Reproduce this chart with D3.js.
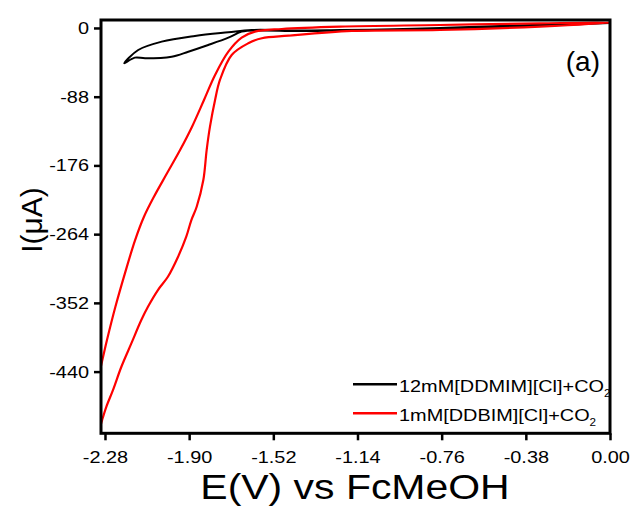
<!DOCTYPE html>
<html>
<head>
<meta charset="utf-8">
<script src="https://cdn.jsdelivr.net/npm/d3@7/dist/d3.min.js"></script>
<style>
body { margin: 0; background: #fff; }
text { font-family: Arial, "Liberation Sans", sans-serif; fill: #000; }
</style>
</head>
<body>
<div id="chart"></div>
<script>
// tick values
var xTicks = [-2.28, -1.90, -1.52, -1.14, -0.76, -0.38, 0.00];
var yTicks = [0, -88, -176, -264, -352, -440];

// legend labels (the subscript 2 is added separately)
var seriesNames = ["12mM[DDMIM][Cl]+CO", "1mM[DDBIM][Cl]+CO"];
var seriesColors = ["#000000", "#ff0000"];

// black CV (12mM DDMIM) : potential (V) and current (uA)
var blackE = [0.000, -0.497, -0.768, -0.980, -1.219, -1.400, -1.618, -1.723, -1.874, -2.024, -2.130, -2.193,
              -2.145, -2.099, -1.979, -1.904, -1.814, -1.723, -1.663, -1.580, -1.400, -0.948, -0.497, 0.000];
var blackI = [6.4, 2.6, 0.0, -1.7, -2.6, -3.2, -2.6, -5.5, -10.2, -17.5, -28.2, -45.2,
              -38.0, -38.8, -36.8, -30.4, -21.8, -12.4, -4.7, -3.2, -3.8, -1.9, 1.3, 6.4];

// red CV (1mM DDBIM): steep branch up to 0 V, then back down the gentle branch
var redE = [-2.298, -2.293, -2.274, -2.244, -2.206, -2.161, -2.116, -2.086, -2.041, -1.996, -1.950, -1.913,
            -1.890, -1.866, -1.836, -1.821, -1.806, -1.783, -1.761, -1.708, -1.633, -1.572, -1.452, -1.166,
            -0.768, -0.316, 0.000,
            -0.316, -0.768, -1.219, -1.482, -1.603, -1.663, -1.723, -1.783, -1.833, -1.887, -1.941, -2.000,
            -2.059, -2.104, -2.144, -2.190, -2.233, -2.271, -2.298];
var redI = [-507.2, -502.1, -485.1, -463.7, -433.8, -403.9, -374.0, -357.0, -335.6, -318.6, -292.9, -267.3,
            -245.9, -228.9, -194.7, -156.3, -126.4, -92.2, -66.6, -34.6, -19.6, -13.2, -9.9, -3.8,
            -2.6, 1.7, 6.8,
            6.0, 3.8, 1.7, -1.3, -4.7, -12.4, -30.4, -60.2, -92.2, -126.4, -156.3, -186.1,
            -216.1, -241.7, -271.6, -314.2, -357.0, -399.6, -433.0];

function init() {
  var W = 633, H = 509;
  var left = 101, right = 610, top = 20, bottom = 433.3;
  var sx = 1.17; // text in the picture is a bit wide

  // plain hyphen for negatives, like the original
  var fmtX = function(d) { return d3.format(".2f")(d).replace("\u2212", "-"); };
  var fmtY = function(d) { return d3.format("d")(d).replace("\u2212", "-"); };

  var svg = d3.select("#chart").append("svg")
    .attr("width", W)
    .attr("height", H);

  var x = d3.scaleLinear().domain([-2.298, 0]).range([left, right]);
  var y = d3.scaleLinear().domain([-519, 10.2]).range([bottom, top]);

  svg.append("defs").append("clipPath").attr("id", "clip")
    .append("rect")
      .attr("x", left).attr("y", top)
      .attr("width", right - left).attr("height", bottom - top);

  // curves
  var line = d3.line()
    .x(function(d) { return x(d[0]); })
    .y(function(d) { return y(d[1]); })
    .curve(d3.curveCatmullRom.alpha(0.5));

  var blackPts = blackE.map(function(e, i) { return [e, blackI[i]]; });
  var redPts = redE.map(function(e, i) { return [e, redI[i]]; });

  var plot = svg.append("g").attr("clip-path", "url(#clip)");
  plot.append("path").datum(blackPts)
    .attr("d", line)
    .attr("fill", "none")
    .attr("stroke", seriesColors[0])
    .attr("stroke-width", 2);
  plot.append("path").datum(redPts)
    .attr("d", line)
    .attr("fill", "none")
    .attr("stroke", seriesColors[1])
    .attr("stroke-width", 2.2);

  // frame
  svg.append("rect")
    .attr("x", left).attr("y", top)
    .attr("width", right - left).attr("height", bottom - top)
    .attr("fill", "none")
    .attr("stroke", "#000")
    .attr("stroke-width", 3);

  // x axis
  var gx = svg.append("g")
    .attr("transform", "translate(0," + bottom + ")")
    .call(d3.axisBottom(x).tickValues(xTicks).tickFormat(fmtX)
      .tickSize(7).tickPadding(11).tickSizeOuter(0));
  gx.select(".domain").remove();
  gx.selectAll(".tick line").attr("stroke-width", 2.5);
  gx.selectAll(".tick text")
    .style("font-size", "17px")
    .attr("transform", "scale(" + sx + ",1)");

  // y axis
  var gy = svg.append("g")
    .attr("transform", "translate(" + left + ",0)")
    .call(d3.axisLeft(y).tickValues(yTicks).tickFormat(fmtY)
      .tickSize(7).tickPadding(5).tickSizeOuter(0));
  gy.select(".domain").remove();
  gy.selectAll(".tick line").attr("stroke-width", 2.5);
  gy.selectAll(".tick text")
    .style("font-size", "17px")
    .attr("x", -12 / sx)
    .attr("transform", "scale(" + sx + ",1)");

  // axis titles
  svg.append("text")
    .attr("transform", "translate(355,499) scale(" + sx + ",1)")
    .attr("text-anchor", "middle")
    .style("font-size", "35px")
    .text("E(V) vs FcMeOH");

  svg.append("text")
    .attr("transform", "translate(42,220) rotate(-90)")
    .attr("text-anchor", "middle")
    .style("font-size", "30px")
    .text("I(\u03bcA)");

  // panel label
  svg.append("text")
    .attr("x", 600).attr("y", 71)
    .attr("text-anchor", "end")
    .style("font-size", "28px")
    .text("(a)");

  // legend
  var legY = [384.3, 413.3];
  seriesNames.forEach(function(name, i) {
    svg.append("line")
      .attr("x1", 353).attr("x2", 397)
      .attr("y1", legY[i]).attr("y2", legY[i])
      .attr("stroke", seriesColors[i])
      .attr("stroke-width", 2.5);
    var t = svg.append("text")
      .attr("transform", "translate(399," + (legY[i] + 7.5) + ") scale(" + sx + ",1)")
      .style("font-size", "17px");
    t.append("tspan").text(name);
    t.append("tspan").attr("dy", 5).style("font-size", "10px").text("2");
  });
}
window.onload = init;
</script>
</body>
</html>
